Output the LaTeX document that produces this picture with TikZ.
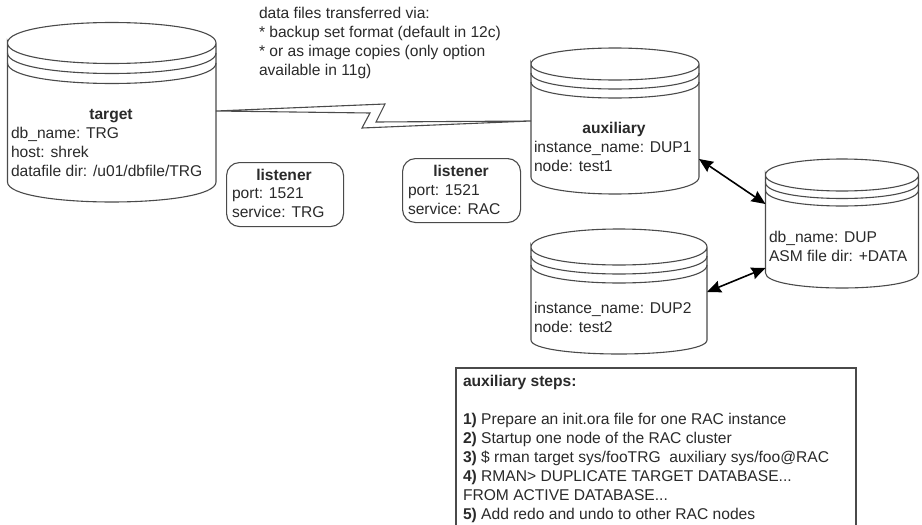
\documentclass[tikz,border=0pt]{standalone}
\usepackage{fontspec}
\setmainfont{Liberation Sans}
\usetikzlibrary{arrows.meta}
\definecolor{ink}{HTML}{2A2A2A}
\definecolor{edge}{HTML}{4A4A4A}
\tikzset{
  cylframe/.style={draw=none,inner sep=0pt,outer sep=0pt,anchor=north west},
  cylline/.style={draw=edge,line width=1.1pt},
  txt/.style={inner sep=0pt,outer sep=0pt,anchor=north west,align=left,text=ink,font=\fontsize{15.6}{19}\selectfont},
  ttl/.style={inner sep=0pt,outer sep=0pt,anchor=base,text=ink,font=\fontsize{15.6}{19}\selectfont\bfseries},
  listen/.style={draw=edge,line width=1.1pt,rounded corners=13pt,inner sep=0pt,anchor=north west},
  dbl/.style={{Stealth[length=14pt,width=12pt,inset=1.5pt]}-{Stealth[length=14pt,width=12pt,inset=1.5pt]},line width=1.6pt,draw=black},
  wire/.style={draw=edge,line width=1.1pt,line join=miter}
}
\newcommand{\fs}{\rule{0pt}{12pt}}
% name, x1, x2, ytop, yside, ring2 offset, ring3 offset, yend, bottom bulge
\newcommand{\cyl}[9]{%
  \pgfmathsetmacro{\cylw}{#3-#2}\pgfmathsetmacro{\cylh}{#8+#9-#4}%
  \pgfmathsetmacro{\cylry}{(#5-#4)*1.333}%
  \pgfmathsetmacro{\cylrb}{#9*1.333}%
  \pgfmathsetmacro{\cylya}{#5+#6}\pgfmathsetmacro{\cylyb}{#5+#7}%
  \node[cylframe,minimum width=\cylw pt,minimum height=\cylh pt] (#1) at (#2,#4) {};
  \draw[cylline] (#2,#5) .. controls (#2,#5-\cylry) and (#3,#5-\cylry) .. (#3,#5)
     .. controls (#3,#5+\cylry) and (#2,#5+\cylry) .. (#2,#5) -- (#2,#8)
     .. controls (#2,#8+\cylrb) and (#3,#8+\cylrb) .. (#3,#8) -- (#3,#5);
  \draw[cylline] (#2,\cylya) .. controls (#2,\cylya+\cylry) and (#3,\cylya+\cylry) .. (#3,\cylya);
  \draw[cylline] (#2,\cylyb) .. controls (#2,\cylyb+\cylry) and (#3,\cylyb+\cylry) .. (#3,\cylyb);
}
\begin{document}
\begin{tikzpicture}[x=1pt,y=-1pt]
\useasboundingbox[fill=white] (0,0) rectangle (922,525);
\cyl{target}{7.5}{216}{22.5}{43}{10}{20}{182}{20}
\cyl{aux}{531}{699}{48}{64}{9}{18}{177}{17}
\cyl{aux2}{531}{707}{229}{247}{9}{18}{340}{14}
\cyl{dup}{765.5}{918.5}{159}{175}{7.5}{15}{273}{15}

\node[txt] (note) at (259,6) {\fs data files transferred via:\\* backup set format (default in 12c)\\* or as image copies (only option\\available in 11g)};

\node[ttl] (targettitle) at (111,119) {target};
\node[txt] (targettext) at (11,126) {\fs db\_name: TRG\\host: shrek\\datafile dir: /u01/dbfile/TRG};

\node[ttl] (auxtitle) at (614,133) {auxiliary};
\node[txt] (auxtext) at (534,140) {\fs instance\_name: DUP1\\node: test1};

\node[txt] (aux2text) at (534,301) {\fs instance\_name: DUP2\\node: test2};

\node[txt] (duptext) at (769,230) {\fs db\_name: DUP\\ASM file dir: +DATA};

\node[listen,minimum width=117pt,minimum height=64pt] (ltrg) at (226,162) {};
\node[ttl] (ltrgtitle) at (284,180) {listener};
\node[txt] (ltrgtext) at (232,186) {\fs port: 1521\\service: TRG};

\node[listen,minimum width=118pt,minimum height=64pt] (lrac) at (402,158) {};
\node[ttl] (lractitle) at (461,176) {listener};
\node[txt] (lractext) at (408,183) {\fs port: 1521\\service: RAC};

\node[cylframe,minimum width=400pt,minimum height=157pt] (steps) at (456,368) {};
\draw[draw=edge,line width=1.3pt] (steps.south west) -- (steps.north west) -- (steps.north east) -- (steps.south east);
\node[txt] (stepstext) at (463,374) {\fs\textbf{auxiliary steps:}\\[19pt]\textbf{1)} Prepare an init.ora file for one RAC instance\\\textbf{2)} Startup one node of the RAC cluster\\\textbf{3)} \$ rman target sys/fooTRG\ \ auxiliary sys/foo@RAC\\\textbf{4)} RMAN> DUPLICATE TARGET DATABASE...\\FROM ACTIVE DATABASE...\\\textbf{5)} Add redo and undo to other RAC nodes};

\draw[wire] ([yshift=-88.5pt]target.north east) -- (385,104) -- (376,122) -- ([yshift=-73pt]aux.north west) -- (362,128) -- (370,113) -- cycle;
\draw[dbl] ([yshift=-111pt]aux.north east) -- ([yshift=-45pt]dup.north west);
\draw[dbl] ([yshift=-63pt]aux2.north east) -- ([yshift=-109pt]dup.north west);
\end{tikzpicture}
\end{document}
